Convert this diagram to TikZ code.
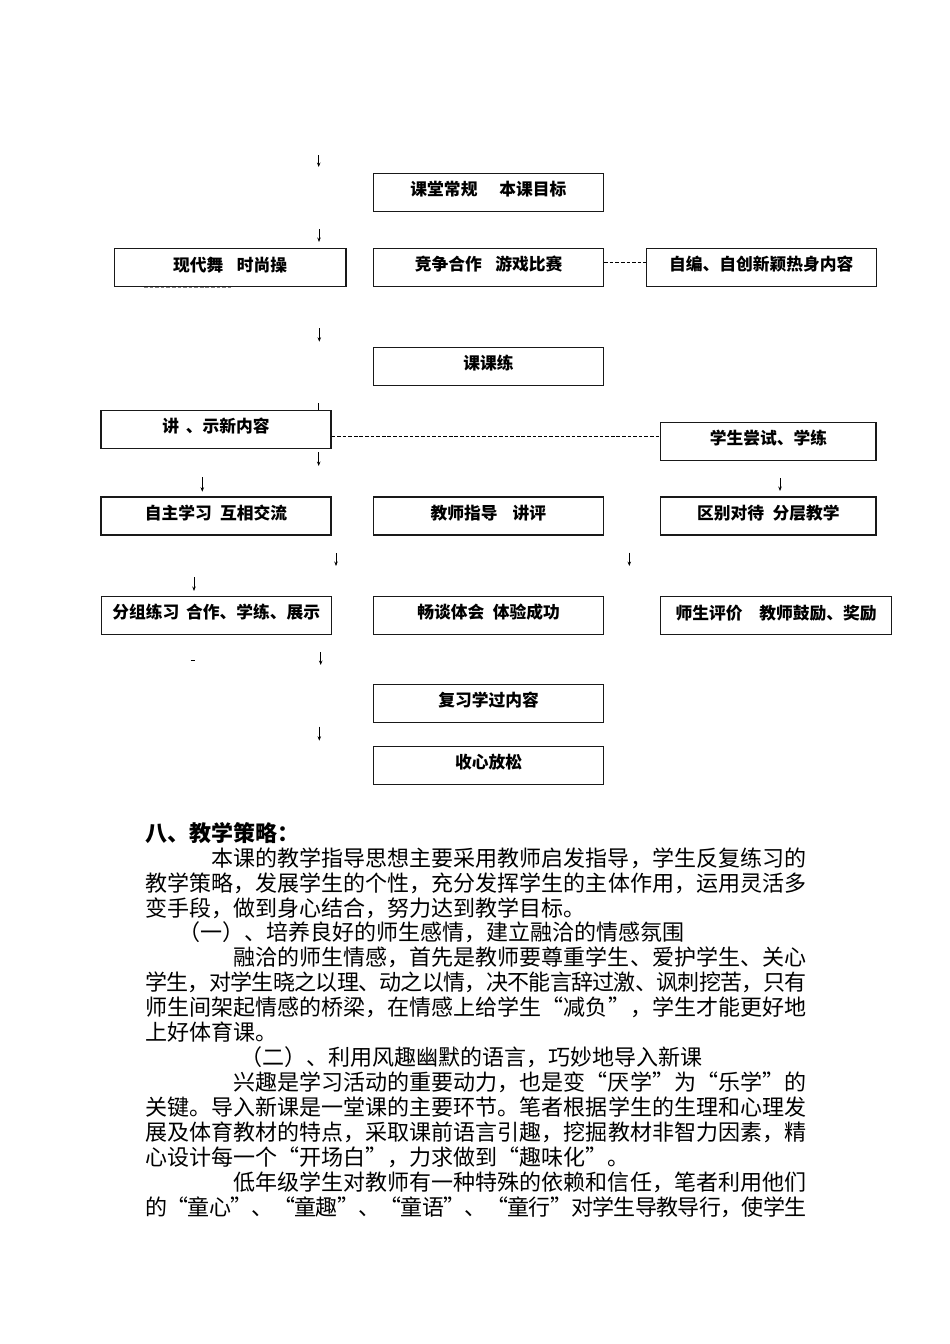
\documentclass[tikz,border=0pt]{standalone}
\usepackage{fontspec}
\newfontfamily\heiti{Noto Sans CJK SC}
\newfontfamily\songti[RawFeature=+fwid]{Noto Sans CJK SC}
\usetikzlibrary{arrows.meta}
\newdimen\pxu \pxu=0.6266pt
\ExplSyntaxOn
\NewDocumentCommand\fullline{mm}{\hbox~to~#1\pxu{\exp_args:No\tl_map_inline:nn{#2}{##1\hskip~0pt~plus~1fil~minus~2pt}\unskip}}
\ExplSyntaxOff

\begin{document}
\begin{tikzpicture}[x=0.6266pt,y=-0.6266pt,
        plain box/.style={draw=black!90, line width=.7pt, inner sep=0pt,
          minimum width=230*\pxu, minimum height=38*\pxu,
          font=\heiti\bfseries\fontsize{10.5}{12}\selectfont, text height=9.24pt, text depth=5pt},
        thin arrow/.style={line width=.45pt, -{Stealth[length=2.8pt,width=2.2pt]}},
        dash line/.style={line width=.5pt, dash pattern=on 2.3pt off 1.2pt},
        body line/.style={anchor=west, inner sep=0pt,
          font=\songti\fontsize{13.8}{15}\selectfont, text height=12.14pt, text depth=1.66pt}]
        \useasboundingbox (0,0) rectangle (950,1344);

        \node[plain box                       ] (gl)  at (488.4,192.2) {课堂常规\hspace{1.3em}本课目标};
        \node[plain box,minimum width=231.7*\pxu] (xd)  at (230.2,267.7) {现代舞\hspace{.8em}时尚操};
        \node[plain box                       ] (jz)  at (488.6,267.5) {竞争合作\hspace{.8em}游戏比赛};
        \node[plain box                       ] (zb)  at (761.3,267.5) {自编、自创新颖热身内容};
        \node[plain box                       ] (kkl) at (488.6,366.2) {课课练};
        \node[plain box                       ] (js)  at (216,429.2)   {讲\hspace{.4em}、示新内容};
        \node[plain box,minimum width=215.3*\pxu] (cs)  at (768.4,441.3) {学生尝试、学练};
        \node[plain box                       ] (zz)  at (216,516)     {自主学习\hspace{.5em}互相交流};
        \node[plain box                       ] (zd)  at (488.4,516)   {教师指导\hspace{.9em}讲评};
        \node[plain box,minimum width=215.3*\pxu] (qb)  at (768.4,516)   {区别对待\hspace{.5em}分层教学};
        \node[plain box                       ] (fz)  at (216.3,615.5) {分组练习\hspace{.4em}合作、学练、展示};
        \node[plain box                       ] (ct)  at (488.6,615.5) {畅谈体会\hspace{.5em}体验成功};
        \node[plain box,minimum width=231*\pxu  ] (pj)  at (776.2,615.8) {师生评价\hspace{1em}教师鼓励、奖励};
        \node[plain box                       ] (fx)  at (488.6,703.2) {复习学过内容};
        \node[plain box                       ] (sx)  at (488.6,765.5) {收心放松};

        \coordinate (d1) at (0,262.3);
        \coordinate (d2) at (0,436.7);
        \draw[dash line] (jz.east |- d1) -- (zb.west |- d1);
        \draw[dash line] (js.east |- d2) -- (cs.west |- d2);
        \coordinate (g1) at (144,287.6);
        \coordinate (g2) at (232.7,287.6);
        \draw[dash line,gray] (g1) -- (g2);
        \coordinate (m1) at (190.7,660);
        \coordinate (m2) at (194.7,660);
        \draw[line width=.6pt] (m1) -- (m2);
        \coordinate (t1) at (318.7,403.3);
        \draw[line width=.45pt] (t1) -- (t1 |- js.north);

        \foreach \n/\x/\ya/\yb in {1/318.7/155/167, 2/319/229/242, 3/319.3/328.3/341.7,
            4/318.7/452.3/466, 5/202.3/477/491.7, 6/780/478/491, 7/336/553/566,
            8/629.3/552.7/566, 9/194/577/591, 10/320.7/652/665, 11/319.3/726.7/740.7}{
          \coordinate (s\n) at (\x,\ya);
          \coordinate (e\n) at (\x,\yb);
          \draw[thin arrow] (s\n) -- (e\n);
        }

        \node[body line,font=\songti\bfseries\fontsize{13.8}{15}\selectfont] (head) at (145,833) {八、教学策略：};
        \foreach \x/\y/\t in {145/908/变手段，做到身心结合，努力达到教学目标。,
            178/932/（一）、培养良好的师生感情，建立融洽的情感氛围,
            145/1032/上好体育课。,
            240/1057/（二）、利用风趣幽默的语言，巧妙地导入新课,
            145/1157/心设计每一个“开场白”，力求做到“趣味化”。}{
          \node[body line] (l\y) at (\x,\y) {\t};
        }
        \foreach \x/\y/\t in {211/858/本课的教学指导思想主要采用教师启发指导，学生反复练习的,
            145/883/教学策略，发展学生的个性，充分发挥学生的主体作用，运用灵活多,
            233/957/融洽的师生情感，首先是教师要尊重学生、爱护学生、关心,
            145/982/学生，对学生晓之以理、动之以情，决不能言辞过激、讽刺挖苦，只有,
            145/1007/师生间架起情感的桥梁，在情感上给学生“减负”，学生才能更好地,
            233/1082/兴趣是学习活动的重要动力，也是变“厌学”为“乐学”的,
            145/1107/关键。导入新课是一堂课的主要环节。笔者根据学生的生理和心理发,
            145/1132/展及体育教材的特点，采取课前语言引趣，挖掘教材非智力因素，精,
            233/1182/低年级学生对教师有一种特殊的依赖和信任，笔者利用他们,
            145/1207/的“童心”、“童趣”、“童语”、“童行”对学生导教导行，使学生}{
          \pgfmathtruncatemacro\w{806-\x}
          \node[body line] (l\y) at (\x,\y) {\fullline{\w}{\t}};
        }
\end{tikzpicture}
\end{document}
